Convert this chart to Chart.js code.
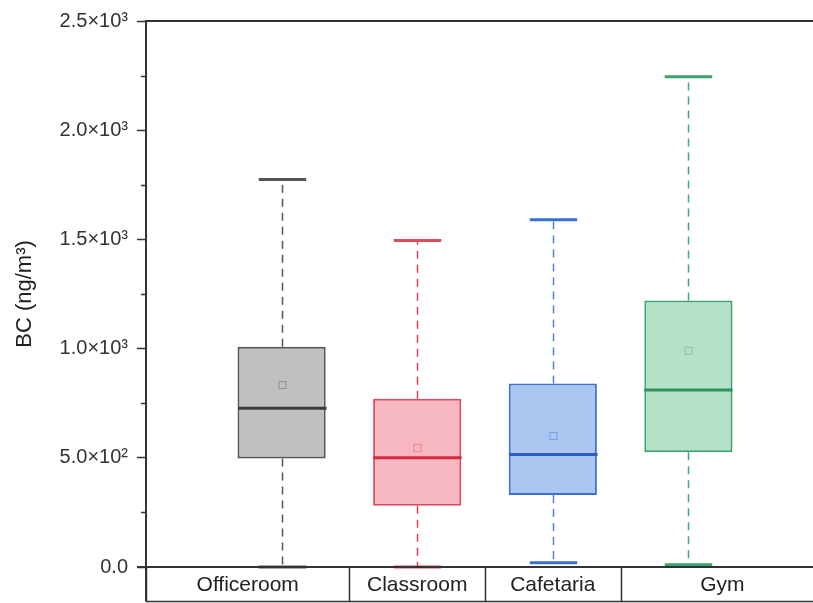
<!DOCTYPE html>
<html>
<head>
<meta charset="utf-8">
<script src="https://cdn.jsdelivr.net/npm/chart.js@4.4.1/dist/chart.umd.min.js"></script>
<style>
  html, body { margin: 0; padding: 0; width: 813px; height: 603px; overflow: hidden; background: #fff; }
</style>
</head>
<body>
<canvas id="boxChart" width="850" height="603"></canvas>
<script>
const categories = ["Officeroom", "Classroom", "Cafetaria", "Gym"];
const positions = [1, 2, 3, 4];
const q1 = [497, 280, 330, 525];
const q3 = [1009, 770, 840, 1220];
const medians = [727, 500, 515, 810];
const means = [833, 545, 600, 990];
const mins = [0, 0, 20, 10];
const maxs = [1774, 1495, 1590, 2245];
const yTickValues = [0, 500, 1000, 1500, 2000, 2500];
const yTickLabels = ["0.0", "5.0×10²", "1.0×10³", "1.5×10³", "2.0×10³", "2.5×10³"];
// cells of the label row under the axis
const cellEdges = [0, 1.5, 2.5, 3.5, 5];

const fills = ["#c0c0c0", "#f7b7c0", "#abc6f1", "#b4e1c8"];
const edges = ["#555555", "#e04a5e", "#3b70d2", "#3aa36c"];
const medianColors = ["#3c3c3c", "#d8283f", "#2a5ec2", "#2f935d"];
const whiskerColors = ["#555555", "#dd4058", "#4e86d6", "#3fa88a"];
const fontFamily = '"Liberation Sans", Arial, sans-serif';

const boxExtras = {
    id: "boxExtras",
    afterDatasetsDraw(chart) {
        const { ctx, scales: { x, y } } = chart;
        const unit = x.getPixelForValue(1) - x.getPixelForValue(0);
        const capHalf = unit * 0.175;
        const bars = chart.getDatasetMeta(0).data;

        positions.forEach((p, i) => {
            const cx = Math.round(x.getPixelForValue(p)) + 0.5;
            const half = bars[i].width / 2;
            ctx.save();

            // whiskers
            ctx.strokeStyle = whiskerColors[i];
            ctx.lineWidth = 1.5;
            ctx.setLineDash([8, 6]);
            ctx.beginPath();
            ctx.moveTo(cx, y.getPixelForValue(q3[i]));
            ctx.lineTo(cx, y.getPixelForValue(maxs[i]));
            ctx.moveTo(cx, y.getPixelForValue(q1[i]));
            ctx.lineTo(cx, y.getPixelForValue(mins[i]));
            ctx.stroke();
            ctx.setLineDash([]);

            // caps
            ctx.strokeStyle = edges[i];
            ctx.lineWidth = 3;
            ctx.beginPath();
            [maxs[i], mins[i]].forEach(v => {
                const py = y.getPixelForValue(v);
                ctx.moveTo(cx - capHalf, py);
                ctx.lineTo(cx + capHalf, py);
            });
            ctx.stroke();

            // median
            ctx.strokeStyle = medianColors[i];
            ctx.lineWidth = 3;
            ctx.beginPath();
            const my = y.getPixelForValue(medians[i]);
            ctx.moveTo(cx - half, my);
            ctx.lineTo(cx + half, my);
            ctx.stroke();

            // mean marker
            ctx.strokeStyle = edges[i];
            ctx.globalAlpha = 0.45;
            ctx.lineWidth = 1;
            const ay = y.getPixelForValue(means[i]);
            ctx.strokeRect(cx - 3.5, ay - 3.5, 7, 7);
            ctx.restore();
        });
    },
    afterDraw(chart) {
        const { ctx, chartArea, scales: { x, y } } = chart;
        const left = chartArea.left;
        const right = chartArea.right;
        const bottom = y.getPixelForValue(0);
        const tableBottom = chart.height - 1.5;
        ctx.save();
        ctx.strokeStyle = "#333";
        ctx.lineWidth = 1.5;

        // minor ticks
        ctx.beginPath();
        for (let v = 250; v < 2500; v += 500) {
            const py = Math.round(y.getPixelForValue(v)) + 0.5;
            ctx.moveTo(left - 5, py);
            ctx.lineTo(left, py);
        }
        ctx.stroke();

        // frame top, x axis line, label row
        ctx.lineWidth = 2;
        ctx.beginPath();
        ctx.moveTo(left, chartArea.top);
        ctx.lineTo(right, chartArea.top);
        ctx.moveTo(left - 9, bottom);
        ctx.lineTo(right, bottom);
        ctx.moveTo(left, bottom);
        ctx.lineTo(left, tableBottom);
        ctx.stroke();

        ctx.lineWidth = 1.5;
        ctx.beginPath();
        ctx.moveTo(left, tableBottom);
        ctx.lineTo(right, tableBottom);
        cellEdges.forEach(e => {
            const px = Math.round(x.getPixelForValue(e)) + 0.5;
            ctx.moveTo(px, bottom);
            ctx.lineTo(px, tableBottom);
        });
        ctx.stroke();

        ctx.fillStyle = "#222";
        ctx.font = "21px " + fontFamily;
        ctx.textAlign = "center";
        ctx.textBaseline = "middle";
        categories.forEach((c, i) => {
            const cx = (x.getPixelForValue(cellEdges[i]) + x.getPixelForValue(cellEdges[i + 1])) / 2;
            ctx.fillText(c, cx, (bottom + tableBottom) / 2 + 1);
        });
        ctx.restore();
    }
};

const ctx = document.getElementById("boxChart").getContext("2d");

new Chart(ctx, {
    type: "bar",
    data: {
        datasets: [{
            data: q1.map((v, i) => ({ x: positions[i], y: [v, q3[i]] })),
            backgroundColor: fills,
            borderColor: edges,
            borderWidth: 2,
            borderSkipped: false,
            barPercentage: 0.65,
            categoryPercentage: 1
        }]
    },
    options: {
        responsive: false,
        animation: false,
        layout: { padding: { left: 0, right: 26, top: 21, bottom: 36 } },
        plugins: {
            legend: { display: false },
            tooltip: { enabled: false }
        },
        scales: {
            x: { type: "linear", min: 0, max: 5, offset: false, display: false, ticks: { stepSize: 1 } },
            y: {
                min: 0,
                max: 2500,
                afterFit(scale) { scale.width = 146; },
                border: { color: "#333", width: 2 },
                grid: { drawOnChartArea: false, tickLength: 9, tickColor: "#333", tickWidth: 1.5 },
                ticks: {
                    stepSize: 500,
                    padding: 9,
                    color: "#333",
                    font: { size: 20, family: fontFamily },
                    callback: v => yTickLabels[yTickValues.indexOf(v)]
                },
                title: {
                    display: true,
                    text: "BC (ng/m³)",
                    color: "#222",
                    font: { size: 22, family: fontFamily },
                    padding: { top: 12, bottom: 0 }
                }
            }
        }
    },
    plugins: [boxExtras]
});
</script>
</body>
</html>
